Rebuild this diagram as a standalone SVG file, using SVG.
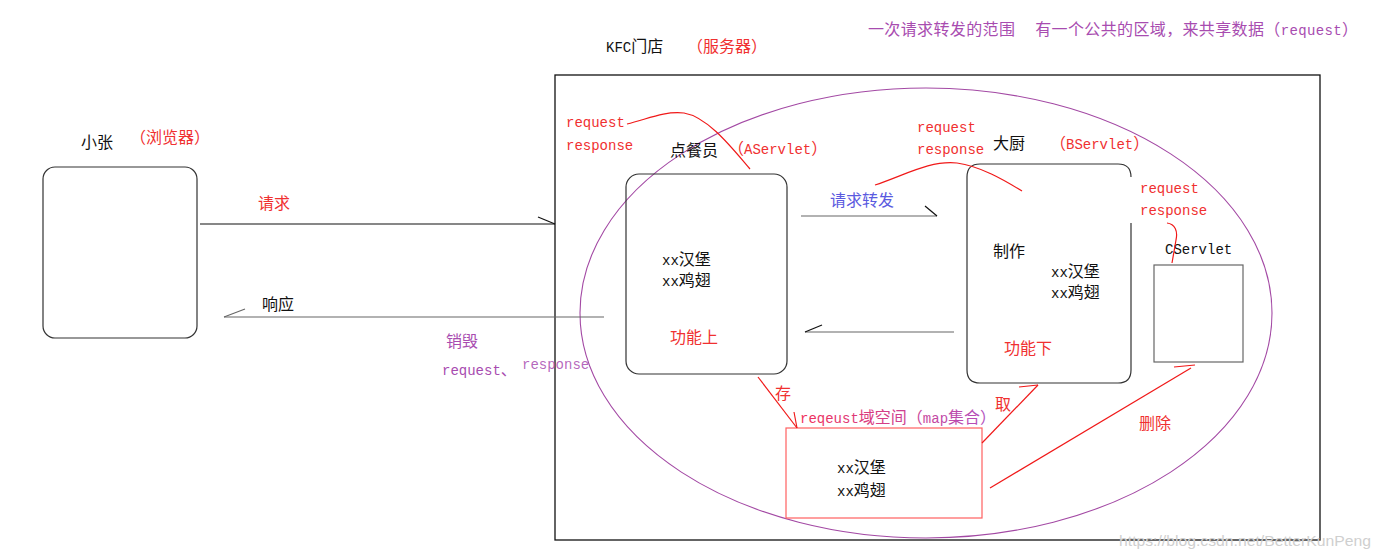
<svg xmlns="http://www.w3.org/2000/svg" width="1380" height="559" viewBox="0 0 1380 559">
<style>
.t{font-family:"Liberation Mono","Noto Sans CJK SC",monospace;font-size:16px;}
.m{font-size:14px;}
.k{fill:#111;}
.r{fill:#f03030;}
.p{fill:#a84cb0;}
.b{fill:#5a5ae0;}
.ln{fill:none;stroke-width:1.2;}
.red{stroke:#f01818;}
.gray{stroke:#666;}
.blk{stroke:#111;}
</style>
<defs>
<linearGradient id="g1" gradientUnits="userSpaceOnUse" x1="800" y1="0" x2="992" y2="0">
<stop offset="0" stop-color="#f0305a"/>
<stop offset="1" stop-color="#b050c0"/>
</linearGradient>
</defs>
<rect width="1380" height="559" fill="#fff"/>

<g id="server">
<rect x="555" y="75" width="765" height="465" fill="none" stroke="#111" stroke-width="1.3"/>
<text class="t k" x="606" y="52"><tspan class="m">KFC</tspan>门店</text>
<text class="t r" x="687" y="52">（服务器）</text>
</g>

<g id="scope">
<ellipse cx="926" cy="313" rx="346" ry="225" fill="none" stroke="#a349a4" stroke-width="1.1"/>
<text class="t p" x="868" y="35" textLength="490" lengthAdjust="spacing">一次请求转发的范围&#160;&#160;有一个公共的区域，来共享数据（<tspan class="m">request</tspan>）</text>
</g>

<g id="browser">
<rect x="43" y="167" width="154" height="171" rx="12" fill="none" stroke="#333" stroke-width="1.2"/>
<text class="t k" x="81" y="148">小张</text>
<text class="t r" x="130" y="143">（浏览器）</text>
</g>

<g id="aservlet">
<rect x="626" y="174" width="161" height="200" rx="13" fill="none" stroke="#333" stroke-width="1.2"/>
<text class="t r m" x="566" y="127">request</text>
<text class="t r m" x="566" y="150">response</text>
<text class="t k" x="670" y="156">点餐员</text>
<text class="t r" x="728" y="154">（<tspan class="m">AServlet</tspan>）</text>
<text class="t k" x="662" y="265"><tspan class="m">xx</tspan>汉堡</text>
<text class="t k" x="662" y="286"><tspan class="m">xx</tspan>鸡翅</text>
<text class="t r" x="670" y="343">功能上</text>
</g>

<g id="bservlet">
<path d="M1131,223 V370 Q1131,383 1118,383 H980 Q967,383 967,370 V177 Q967,164 980,164 H1118 Q1131,164 1131,177" fill="none" stroke="#333" stroke-width="1.2"/>
<text class="t r m" x="917" y="132">request</text>
<text class="t r m" x="917" y="154">response</text>
<text class="t k" x="993" y="149">大厨</text>
<text class="t r" x="1050" y="149">（<tspan class="m">BServlet</tspan>）</text>
<text class="t k" x="993" y="257">制作</text>
<text class="t k" x="1051" y="277"><tspan class="m">xx</tspan>汉堡</text>
<text class="t k" x="1051" y="298"><tspan class="m">xx</tspan>鸡翅</text>
<text class="t r" x="1004" y="354">功能下</text>
</g>

<g id="cservlet">
<rect x="1154" y="265" width="89" height="97" fill="none" stroke="#666" stroke-width="1.2"/>
<text class="t r m" x="1140" y="193">request</text>
<text class="t r m" x="1140" y="215">response</text>
<text class="t k m" x="1165" y="254">CServlet</text>
</g>

<g id="storage">
<rect x="786" y="428" width="196" height="90" fill="none" stroke="#ff6060" stroke-width="1.2"/>
<text class="t" x="800" y="423" fill="url(#g1)"><tspan class="m">reqeust</tspan>域空间（<tspan class="m">map</tspan>集合）</text>
<text class="t k" x="837" y="473"><tspan class="m">xx</tspan>汉堡</text>
<text class="t k" x="837" y="496"><tspan class="m">xx</tspan>鸡翅</text>
</g>

<g id="connectors">
<line class="ln blk" x1="200" y1="224" x2="555" y2="224"/>
<line class="ln blk" x1="538" y1="217" x2="555" y2="224"/>
<text class="t r" x="258" y="209">请求</text>

<line class="ln gray" x1="604" y1="317" x2="224" y2="317"/>
<line class="ln gray" x1="224" y1="317" x2="245" y2="309"/>
<text class="t k" x="262" y="310">响应</text>
<text class="t p" x="446" y="347">销毁</text>
<text class="t p" x="442" y="375"><tspan class="m">request</tspan>、</text>
<text class="t p m" x="522" y="369" fill-opacity="0.85">response</text>

<line class="ln gray" x1="801" y1="216" x2="937" y2="216"/>
<line class="ln blk" x1="925" y1="206" x2="937" y2="216"/>
<text class="t b" x="830" y="206">请求转发</text>

<line class="ln gray" x1="954" y1="332" x2="805" y2="332"/>
<line class="ln blk" x1="805" y1="332" x2="822" y2="325"/>

<path class="ln red" d="M627,124 C648,119 663,111 684,113 C708,117 732,148 750,169"/>
<path class="ln red" d="M875,185 C903,176 930,160 957,163 C980,166 1004,180 1022,191"/>
<path class="ln red" d="M1167,223 C1175,224 1178,231 1176,240 L1172,263"/>

<line class="ln red" x1="758" y1="377" x2="797" y2="428"/>
<line class="ln red" x1="794" y1="412" x2="797" y2="428"/>
<text class="t r" x="775" y="399">存</text>

<line class="ln red" x1="982" y1="443" x2="1038" y2="385"/>
<line class="ln red" x1="1019" y1="387" x2="1038" y2="385"/>
<text class="t r" x="995" y="410">取</text>

<line class="ln red" x1="990" y1="488" x2="1191" y2="368"/>
<line class="ln red" x1="1174" y1="367" x2="1195" y2="365"/>
<text class="t r" x="1139" y="429">删除</text>
</g>

<text x="1119" y="546" font-family="Liberation Sans, Arial, sans-serif" font-size="15" fill="#cfcfcf" textLength="252" lengthAdjust="spacingAndGlyphs">https://blog.csdn.net/BetterKunPeng</text>
</svg>
